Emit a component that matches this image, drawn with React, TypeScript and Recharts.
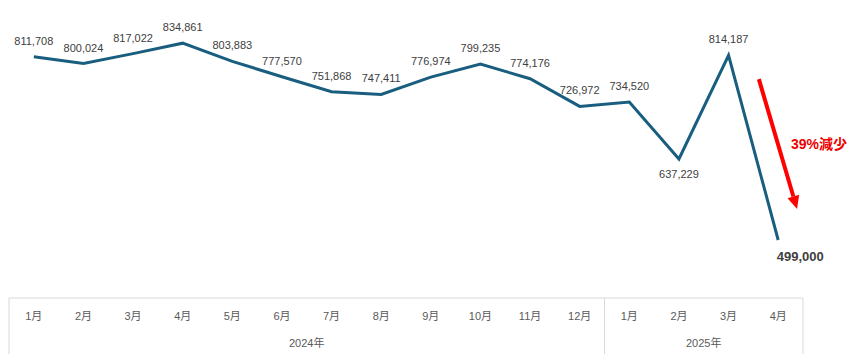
import { LineChart, Line, XAxis, YAxis, LabelList, ReferenceLine } from 'recharts';

const months = ['1月', '2月', '3月', '4月', '5月', '6月', '7月', '8月', '9月', '10月', '11月', '12月', '1月', '2月', '3月', '4月'];
const values = [811708, 800024, 817022, 834861, 803883, 777570, 751868, 747411, 776974, 799235, 774176, 726972, 734520, 637229, 814187, 499000];
const years = ['2024年', '2025年'];
const yearSpans = [12, 4];

// the red "drop" arrow, in data units (idx, value)
const arrowFrom = { idx: 14.61, value: 773500 };
const arrowTo = { idx: 15.38, value: 552000 };
const arrowText = '39%減少';

const data = values.map((v, i) => ({ idx: i, month: months[i], value: v }));
const monthTicks = data.map((d) => d.idx);

// year axis: boundaries and group centres
const yearTicks: number[] = [];
const yearCenters: Record<string, string> = {};
let start = -0.5;
yearTicks.push(start);
yearSpans.forEach((n, i) => {
  const c = start + n / 2;
  yearTicks.push(c);
  yearCenters[String(c)] = years[i];
  start += n;
  yearTicks.push(start);
});

const FONT = '"Liberation Sans", Arial, "Noto Sans CJK JP", sans-serif';
const LINE = '#1a5e7f';
const GRID = '#d9d9d9';

const MonthTick = (props: any) => {
  const { x, y, payload } = props;
  return (
    <text x={x} y={y + 22} textAnchor="middle" fontSize={11} fill="#595959" fontFamily={FONT}>
      {months[payload.value]}
    </text>
  );
};

const YearTick = (props: any) => {
  const { x, y, payload } = props;
  const label = yearCenters[String(payload.value)];
  if (label) {
    return (
      <text x={x} y={y + 21} textAnchor="middle" fontSize={11} fill="#595959" fontFamily={FONT}>
        {label}
      </text>
    );
  }
  return <line x1={x} x2={x} y1={y - 28} y2={y + 28} stroke={GRID} strokeWidth={1} />;
};

const PointLabel = (props: any) => {
  const { x, y, value, index } = props;
  const last = index === values.length - 1;
  const below = index === 13;
  if (last) {
    return (
      <text x={x + 22} y={y + 21} textAnchor="middle" fontSize={13} fontWeight="bold" fill="#404040" fontFamily={FONT}>
        {value.toLocaleString('en-US')}
      </text>
    );
  }
  return (
    <text x={x} y={below ? y + 19 : y - 12} textAnchor="middle" fontSize={11} fill="#404040" fontFamily={FONT}>
      {value.toLocaleString('en-US')}
    </text>
  );
};

const ArrowShape = (props: any) => {
  const { x1, y1, x2, y2 } = props;
  const dx = x2 - x1;
  const dy = y2 - y1;
  const len = Math.sqrt(dx * dx + dy * dy);
  const ux = dx / len;
  const uy = dy / len;
  const head = 13;
  const half = 6;
  const bx = x2 - ux * head;
  const by = y2 - uy * head;
  const mx = (x1 + x2) / 2;
  const my = (y1 + y2) / 2;
  return (
    <g>
      <line x1={x1} y1={y1} x2={bx} y2={by} stroke="#ff0000" strokeWidth={4} />
      <polygon
        points={`${x2},${y2} ${bx - uy * half},${by + ux * half} ${bx + uy * half},${by - ux * half}`}
        fill="#ff0000"
      />
      <text x={mx + 13} y={my + 5} fontSize={14} fontWeight="bold" fill="#ee0000" fontFamily={FONT}>
        {arrowText}
      </text>
    </g>
  );
};

export default function App() {
  return (
    <div style={{ position: 'absolute', left: 0, top: 0, background: '#fff' }}>
      <LineChart width={849} height={354} data={data} margin={{ top: 5, right: 46, left: 9, bottom: 0 }}>
        <XAxis
          xAxisId="m"
          type="number"
          dataKey="idx"
          domain={[-0.5, 15.5]}
          ticks={monthTicks}
          interval={0}
          height={28}
          tickSize={0}
          tickMargin={0}
          tickLine={false}
          axisLine={{ stroke: GRID }}
          tick={MonthTick}
        />
        <XAxis
          xAxisId="yr"
          type="number"
          dataKey="idx"
          domain={[-0.5, 15.5]}
          ticks={yearTicks}
          interval={0}
          height={28}
          tickSize={0}
          tickMargin={0}
          tickLine={false}
          axisLine={false}
          tick={YearTick}
        />
        <YAxis hide domain={[400000, 900000]} />
        <ReferenceLine
          xAxisId="m"
          segment={[
            { x: arrowFrom.idx, y: arrowFrom.value },
            { x: arrowTo.idx, y: arrowTo.value },
          ]}
          shape={ArrowShape}
          ifOverflow="visible"
        />
        <Line
          xAxisId="m"
          type="linear"
          dataKey="value"
          stroke={LINE}
          strokeWidth={3}
          dot={false}
          activeDot={false}
          isAnimationActive={false}
        >
          <LabelList dataKey="value" content={PointLabel} />
        </Line>
      </LineChart>
    </div>
  );
}
